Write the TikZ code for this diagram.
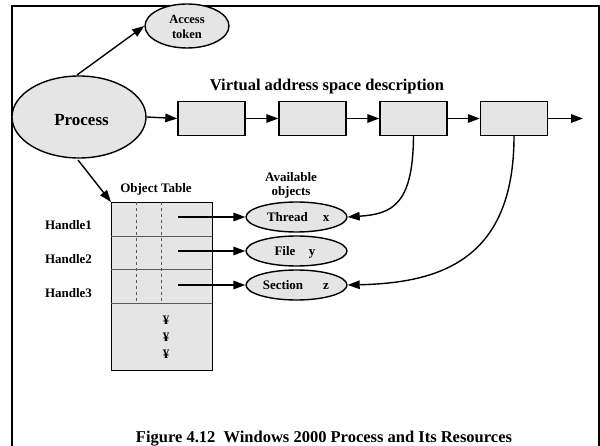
\documentclass[tikz,border=0pt]{standalone}
\usepackage{fontspec}
\setmainfont{Liberation Serif}
\usetikzlibrary{arrows.meta,shapes.geometric}
\begin{document}
\begin{tikzpicture}[x=1pt,y=-1pt,
  every node/.style={font=\bfseries},
  obj/.style={draw,line width=1.4pt,fill=black!10},
  oval/.style={obj,ellipse,inner sep=0pt},
  vbox/.style={obj,rectangle,minimum width=67pt,minimum height=34pt,inner sep=0pt},
  arr/.style={line width=1.4pt,-{Triangle[length=12pt,width=8.5pt]}},
  lbl/.style={inner sep=0pt,font=\bfseries\fontsize{13}{14}\selectfont},
  blbl/.style={lbl,anchor=base}]
\useasboundingbox (0,0) rectangle (600,446);
% frame
\draw[line width=2pt] (12,446) -- (12,6) -- (598.5,6) -- (598.5,446);
% process and its token
\node[oval,minimum width=134pt,minimum height=82pt] (proc) at (79,117) {};
\node[lbl,font=\bfseries\fontsize{17}{18}\selectfont] (proct) at (81.5,120) {Process};
\node[oval,minimum width=84pt,minimum height=44pt] (tok) at (187,26) {};
\node[lbl,align=center,font=\bfseries\fontsize{12.5}{13}\selectfont] (tokt) at (187,27) {Access\\[2pt]token};
\coordinate (p1) at (77,75);
\draw[arr] (p1) -- (tok.west);
% virtual address space chain
\node[lbl,font=\bfseries\fontsize{16.5}{18}\selectfont] (vas) at (327,87) {Virtual address space description};
\node[vbox] (b1) at (211.5,118.5) {};
\node[vbox] (b2) at (312.5,118.5) {};
\node[vbox] (b3) at (413.5,118.5) {};
\node[vbox] (b4) at (514,118.5) {};
\coordinate (last) at (583,118.5);
\draw[arr] (proc.east) -- (b1.west);
\draw[arr] (b1.east) -- (b2.west);
\draw[arr] (b2.east) -- (b3.west);
\draw[arr] (b3.east) -- (b4.west);
\draw[arr] (b4.east) -- (last);
% object table
\node[obj,rectangle,minimum width=101pt,minimum height=168pt,inner sep=0pt,anchor=north west] (tab) at (111,202) {};
\draw[line width=0.9pt,black!65] (111,236) -- (212,236) (111,269) -- (212,269) (111,303) -- (212,303);
\draw[line width=0.9pt,dashed,black!65] (136,202) -- (136,303) (161,202) -- (161,303);
\node[lbl] (tabt) at (156,189) {Object Table};
\coordinate (p2) at (78,160);
\draw[arr] (p2) -- (tab.north west);
\node[lbl] (h1) at (68.5,225) {Handle1};
\node[lbl] (h2) at (68.5,259) {Handle2};
\node[lbl] (h3) at (68.5,293) {Handle3};
\node[lbl] (d1) at (166,320) {¥};
\node[lbl] (d2) at (166,337) {¥};
\node[lbl] (d3) at (166,354) {¥};
% available objects
\node[lbl,align=center] (avt) at (291,185) {Available\\[0pt]objects};
\node[oval,minimum width=101pt,minimum height=30pt] (th) at (296.5,217) {};
\node[oval,minimum width=101pt,minimum height=30pt] (fi) at (296.5,251) {};
\node[oval,minimum width=101pt,minimum height=30pt] (se) at (296.5,285) {};
\node[blbl] (tht) at (287.5,221.5) {Thread};
\node[blbl] (thx) at (326,221.5) {x};
\node[blbl] (fit) at (285,255.5) {File};
\node[blbl] (fiy) at (312,255.5) {y};
\node[blbl] (set) at (283,289.5) {Section};
\node[blbl] (sez) at (326,289.5) {z};
\coordinate (r1) at (178,217);
\coordinate (r2) at (178,251);
\coordinate (r3) at (178,285);
\draw[arr] (r1) -- (th.west);
\draw[arr] (r2) -- (fi.west);
\draw[arr] (r3) -- (se.west);
% pages pointing to objects
\draw[arr] (b3.south) .. controls (413,205) and (392,214) .. (th.east);
\draw[arr] (b4.south) .. controls (514,260) and (440,283) .. (se.east);
% caption
\node[lbl,font=\bfseries\fontsize{16.5}{18}\selectfont] (cap) at (324,439) {Figure 4.12\ \ Windows 2000 Process and Its Resources};
\end{tikzpicture}
\end{document}
